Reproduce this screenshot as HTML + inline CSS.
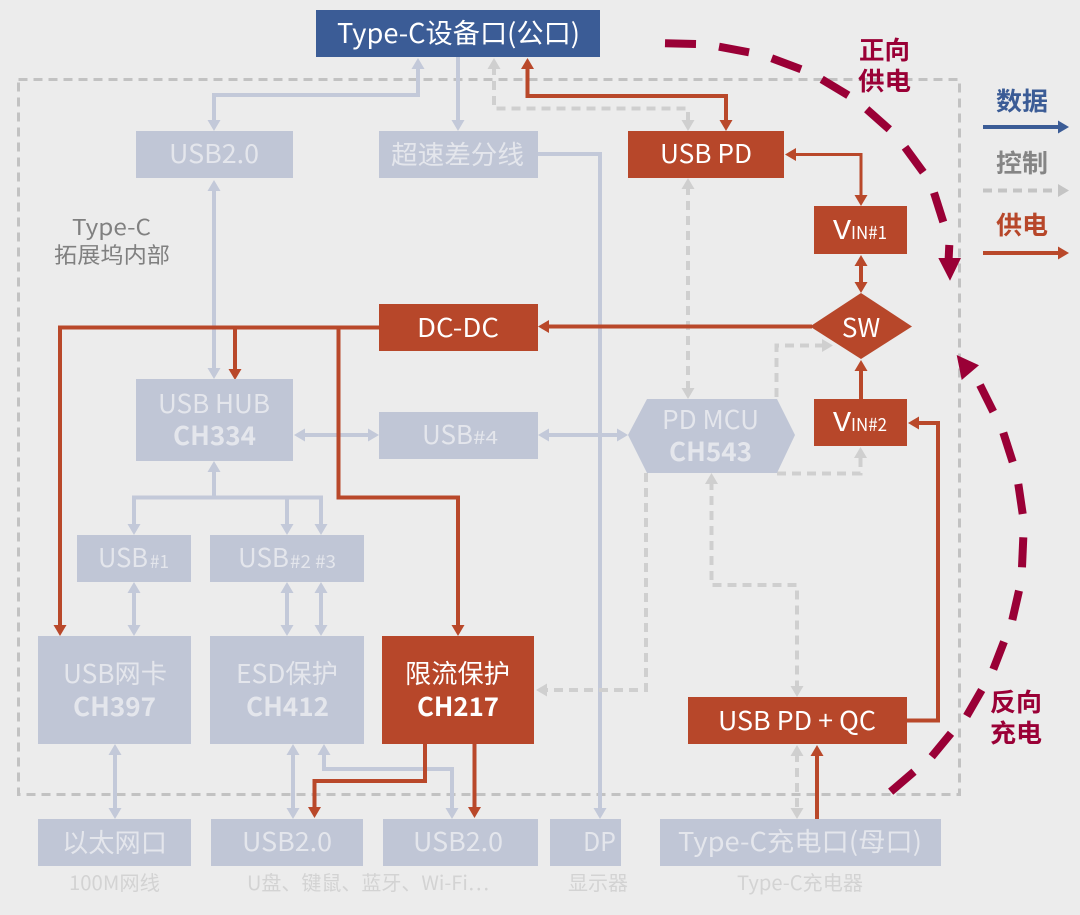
<!DOCTYPE html>
<html><head><meta charset="utf-8"><style>
html,body{margin:0;padding:0;width:1080px;height:915px;background:#ececec;overflow:hidden}
svg{display:block}
text{font-family:"Noto Sans CJK SC","Liberation Sans",sans-serif;font-size:26px;fill:#e4e6ec;white-space:pre}
.w{fill:#fff}.b{font-weight:700}
.g{fill:none;stroke:#c3c9d9;stroke-width:4}
.d{fill:none;stroke:#cfcfcf;stroke-width:4;stroke-dasharray:9 6}
.r{fill:none;stroke:#b9482a;stroke-width:4}
.r3{stroke-width:3}
.c{stroke:#9a0036;stroke-width:8;fill:none}
.box{fill:#c0c6d6}.red{fill:#b7472a}
.cap{fill:#d3d3d3;font-size:20px}
.in{fill:#808080;font-size:22px}
.ma{fill:#9a0036;font-size:25px;font-weight:700}
.sub{font-size:18px}
</style></head><body>
<svg width="1080" height="915" viewBox="0 0 1080 915" xmlns="http://www.w3.org/2000/svg">
<defs>
<marker id="mg" markerUnits="userSpaceOnUse" markerWidth="14" markerHeight="14" refX="3" refY="7" orient="auto-start-reverse"><polygon points="0,0.500 11,7 0,13.500" fill="#c3c9d9"/></marker>
<marker id="md" markerUnits="userSpaceOnUse" markerWidth="14" markerHeight="14" refX="3" refY="7" orient="auto-start-reverse"><polygon points="0,0.500 11,7 0,13.500" fill="#cfcfcf"/></marker>
<marker id="mr" markerUnits="userSpaceOnUse" markerWidth="14" markerHeight="14" refX="3" refY="7" orient="auto-start-reverse"><polygon points="0,0.500 11,7 0,13.500" fill="#b9482a"/></marker>
<marker id="mn" markerUnits="userSpaceOnUse" markerWidth="14" markerHeight="14" refX="3" refY="7" orient="auto-start-reverse"><polygon points="0,0.500 11,7 0,13.500" fill="#3b5c96"/></marker>
<marker id="mk" markerUnits="userSpaceOnUse" markerWidth="14" markerHeight="14" refX="3" refY="7" orient="auto-start-reverse"><polygon points="0,0.500 11,7 0,13.500" fill="#c4c4c4"/></marker>
</defs>
<rect width="1080" height="915" fill="#ececec"/>
<rect x="18.500" y="79.500" width="941" height="715" fill="none" stroke="#c2c2c2" stroke-width="3" stroke-dasharray="9 6"/>

<!-- data lines -->
<g class="g">
<path d="M458 57V123" marker-end="url(#mg)"/>
<path d="M214 123V95H418V66" marker-start="url(#mg)" marker-end="url(#mg)"/>
<path d="M214 188V371" marker-start="url(#mg)" marker-end="url(#mg)"/>
<path d="M538 154H600V811" marker-end="url(#mg)"/>
<path d="M302 435H371" marker-start="url(#mg)" marker-end="url(#mg)"/>
<path d="M546 435H620" marker-start="url(#mg)" marker-end="url(#mg)"/>
<path d="M214 497V469" marker-end="url(#mg)"/>
<path d="M134 527V497.500H321V527" marker-start="url(#mg)" marker-end="url(#mg)"/>
<path d="M287 497V527" marker-end="url(#mg)"/>
<path d="M134 590V628" marker-start="url(#mg)" marker-end="url(#mg)"/>
<path d="M287 590V628" marker-start="url(#mg)" marker-end="url(#mg)"/>
<path d="M321 590V628" marker-start="url(#mg)" marker-end="url(#mg)"/>
<path d="M115 752V811" marker-start="url(#mg)" marker-end="url(#mg)"/>
<path d="M293 752V811" marker-start="url(#mg)" marker-end="url(#mg)"/>
<path d="M324 752V769H452V811" marker-start="url(#mg)" marker-end="url(#mg)"/>
</g>
<!-- control lines -->
<g class="d">
<path d="M494 66V108.500H688V123" marker-start="url(#md)" marker-end="url(#md)"/>
<path d="M688 186V391" marker-start="url(#md)" marker-end="url(#md)"/>
<path d="M776.500 397V345.500H825" marker-end="url(#md)"/>
<path d="M777 473.500H860.500V455" marker-end="url(#md)"/>
<path d="M646 473V690H544" marker-end="url(#md)"/>
<path d="M711.500 481V585H797V689" marker-start="url(#md)" marker-end="url(#md)"/>
<path d="M797 753V811" marker-start="url(#md)" marker-end="url(#md)"/>
</g>
<!-- power lines -->
<g class="r">
<path d="M527.500 66V96H726V123" marker-start="url(#mr)" marker-end="url(#mr)"/>
<path class="r3" d="M793 154.500H861V198" marker-start="url(#mr)" marker-end="url(#mr)"/>
<path d="M861 263V285" marker-start="url(#mr)" marker-end="url(#mr)"/>
<path d="M861 399V368" marker-end="url(#mr)"/>
<path d="M812 326.500H546" marker-end="url(#mr)"/>
<path d="M379 327.500H60V628" marker-end="url(#mr)"/>
<path d="M235 327V372" marker-end="url(#mr)"/>
<path d="M338.500 327V497.500H458V628" marker-end="url(#mr)"/>
<path d="M907 720.500H938V423H916" marker-end="url(#mr)"/>
<path d="M817 819V753" marker-end="url(#mr)"/>
<path d="M425 744V781H314.500V810" marker-end="url(#mr)"/>
<path d="M474.500 744V810" marker-end="url(#mr)"/>
</g>

<!-- boxes -->
<rect x="316" y="10" width="284" height="47" fill="#3b5c96"/>
<rect class="box" x="136" y="131" width="157" height="47"/>
<rect class="box" x="379" y="131" width="159" height="47"/>
<rect class="red" x="628" y="131" width="156" height="47"/>
<rect class="red" x="814" y="206" width="93" height="48"/>
<polygon class="red" points="810,326.500 861,293 912,326.500 861,359"/>
<rect class="red" x="814" y="399" width="93" height="47"/>
<rect class="red" x="379" y="304" width="159" height="47"/>
<rect class="box" x="136" y="379" width="157" height="82"/>
<rect class="box" x="379" y="412" width="159" height="47"/>
<polygon class="box" points="628,435 647,399 777,399 795,435 777,473 647,473"/>
<rect class="box" x="77" y="535" width="114" height="47"/>
<rect class="box" x="210" y="535" width="154" height="47"/>
<rect class="box" x="38" y="636" width="153" height="108"/>
<rect class="box" x="210" y="636" width="154" height="108"/>
<rect class="red" x="382" y="636" width="152" height="108"/>
<rect class="red" x="688" y="697" width="219" height="47"/>
<rect class="box" x="38" y="819" width="153" height="47"/>
<rect class="box" x="211" y="819" width="152" height="47"/>
<rect class="box" x="383" y="819" width="155" height="47"/>
<rect class="box" x="550" y="819" width="71" height="47"/>
<rect class="box" x="660" y="819" width="281" height="47"/>

<!-- box labels -->
<text class="w" x="337" y="43" style="font-size:27px" textLength="243" lengthAdjust="spacingAndGlyphs">Type-C设备口(公口)</text>
<text x="169" y="163" textLength="90" lengthAdjust="spacingAndGlyphs">USB2.0</text>
<text x="391" y="164" textLength="133" lengthAdjust="spacingAndGlyphs">超速差分线</text>
<text class="w" x="660" y="163" textLength="92" lengthAdjust="spacingAndGlyphs">USB PD</text>
<text class="w" x="833" y="239" textLength="18" lengthAdjust="spacingAndGlyphs">V</text>
<text class="w sub" x="851" y="239" textLength="36" lengthAdjust="spacingAndGlyphs">IN#1</text>
<text class="w" x="861" y="337" text-anchor="middle">SW</text>
<text class="w" x="833" y="431" textLength="18" lengthAdjust="spacingAndGlyphs">V</text>
<text class="w sub" x="851" y="431" textLength="36" lengthAdjust="spacingAndGlyphs">IN#2</text>
<text class="w" x="417" y="337" textLength="82" lengthAdjust="spacingAndGlyphs">DC-DC</text>
<text x="158" y="413" textLength="112" lengthAdjust="spacingAndGlyphs">USB HUB</text>
<text class="b" x="173" y="445" textLength="83" lengthAdjust="spacingAndGlyphs">CH334</text>
<text x="422" y="444" textLength="51" lengthAdjust="spacingAndGlyphs">USB</text>
<text class="sub" x="473" y="444" textLength="25" lengthAdjust="spacingAndGlyphs">#4</text>
<text x="662" y="429" textLength="97" lengthAdjust="spacingAndGlyphs">PD MCU</text>
<text class="b" x="669" y="461" textLength="83" lengthAdjust="spacingAndGlyphs">CH543</text>
<text x="98" y="567" textLength="50" lengthAdjust="spacingAndGlyphs">USB</text>
<text class="sub" x="150" y="568" textLength="19" lengthAdjust="spacingAndGlyphs">#1</text>
<text x="238" y="567" textLength="51" lengthAdjust="spacingAndGlyphs">USB</text>
<text class="sub" x="290" y="568" textLength="46" lengthAdjust="spacingAndGlyphs">#2 #3</text>
<text x="63" y="683" textLength="104" lengthAdjust="spacingAndGlyphs">USB网卡</text>
<text class="b" x="73" y="716" textLength="83" lengthAdjust="spacingAndGlyphs">CH397</text>
<text x="236" y="683" textLength="102" lengthAdjust="spacingAndGlyphs">ESD保护</text>
<text class="b" x="246" y="716" textLength="83" lengthAdjust="spacingAndGlyphs">CH412</text>
<text class="w" x="405" y="683" textLength="105" lengthAdjust="spacingAndGlyphs">限流保护</text>
<text class="w b" x="417" y="716" textLength="82" lengthAdjust="spacingAndGlyphs">CH217</text>
<text class="w" x="718" y="730" textLength="158" lengthAdjust="spacingAndGlyphs">USB PD + QC</text>
<text x="62" y="852" textLength="105" lengthAdjust="spacingAndGlyphs">以太网口</text>
<text x="242" y="851" textLength="90" lengthAdjust="spacingAndGlyphs">USB2.0</text>
<text x="413" y="851" textLength="90" lengthAdjust="spacingAndGlyphs">USB2.0</text>
<text x="583" y="851" textLength="33" lengthAdjust="spacingAndGlyphs">DP</text>
<text x="678" y="851" textLength="244" lengthAdjust="spacingAndGlyphs">Type-C充电口(母口)</text>

<!-- captions -->
<text class="cap" x="69" y="890" textLength="91" lengthAdjust="spacingAndGlyphs">100M网线</text>
<text class="cap" x="247" y="890" textLength="242" lengthAdjust="spacingAndGlyphs">U盘、键鼠、蓝牙、Wi-Fi…</text>
<text class="cap" x="568" y="890" textLength="60" lengthAdjust="spacingAndGlyphs">显示器</text>
<text class="cap" x="737" y="890" textLength="126" lengthAdjust="spacingAndGlyphs">Type-C充电器</text>
<text class="in" x="72" y="235" textLength="79" lengthAdjust="spacingAndGlyphs">Type-C</text>
<text class="in" x="54" y="263" textLength="116" lengthAdjust="spacingAndGlyphs">拓展坞内部</text>

<!-- flow arcs -->
<g class="c">
<path d="M665 43.300L696 44"/>
<path d="M719 46.700L749 52.300"/>
<path d="M771.700 58.300L801 69.300"/>
<path d="M821.700 79.300L848.300 95.300"/>
<path d="M866.700 109.300L889.300 129.300"/>
<path d="M905 147.300L923.300 172.300"/>
<path d="M934 192.700L943.300 222"/>
<path d="M949.300 245L948.500 262"/>
<path d="M980 385L993.300 411.700"/>
<path d="M1003.300 432.700L1012.700 462"/>
<path d="M1018.300 484L1022.700 514"/>
<path d="M1023.300 537.300L1022 567.300"/>
<path d="M1019 590.700L1012.300 620"/>
<path d="M1004 641.700L993.300 669.300"/>
<path d="M981.700 690L966.700 716"/>
<path d="M951 733.300L931.700 756.700"/>
<path d="M914 771.700L890.700 791.700"/>
</g>
<polygon points="938.300,258 961,258 950,280.700" fill="#9a0036"/>
<polygon points="956.700,355 979,365.300 961.700,380" fill="#9a0036"/>
<text class="ma" x="859" y="59" textLength="51" lengthAdjust="spacingAndGlyphs">正向</text>
<text class="ma" x="858" y="90" textLength="53" lengthAdjust="spacingAndGlyphs">供电</text>
<text class="ma" x="990" y="711" textLength="52" lengthAdjust="spacingAndGlyphs">反向</text>
<text class="ma" x="990" y="742" textLength="52" lengthAdjust="spacingAndGlyphs">充电</text>

<!-- legend -->
<text x="996" y="110" textLength="52" lengthAdjust="spacingAndGlyphs" style="font-size:25px;font-weight:700;fill:#3b5c96">数据</text>
<path d="M983 127H1061" fill="none" stroke="#3b5c96" stroke-width="4" marker-end="url(#mn)"/>
<text x="996" y="172" textLength="52" lengthAdjust="spacingAndGlyphs" style="font-size:25px;font-weight:700;fill:#858585">控制</text>
<path d="M983 190.500H1061" fill="none" stroke="#c4c4c4" stroke-width="4" stroke-dasharray="9 6" marker-end="url(#mk)"/>
<text x="996" y="234" textLength="52" lengthAdjust="spacingAndGlyphs" style="font-size:25px;font-weight:700;fill:#b7472a">供电</text>
<path d="M983 253H1061" fill="none" stroke="#b9482a" stroke-width="4" marker-end="url(#mr)"/>
</svg>
</body></html>
